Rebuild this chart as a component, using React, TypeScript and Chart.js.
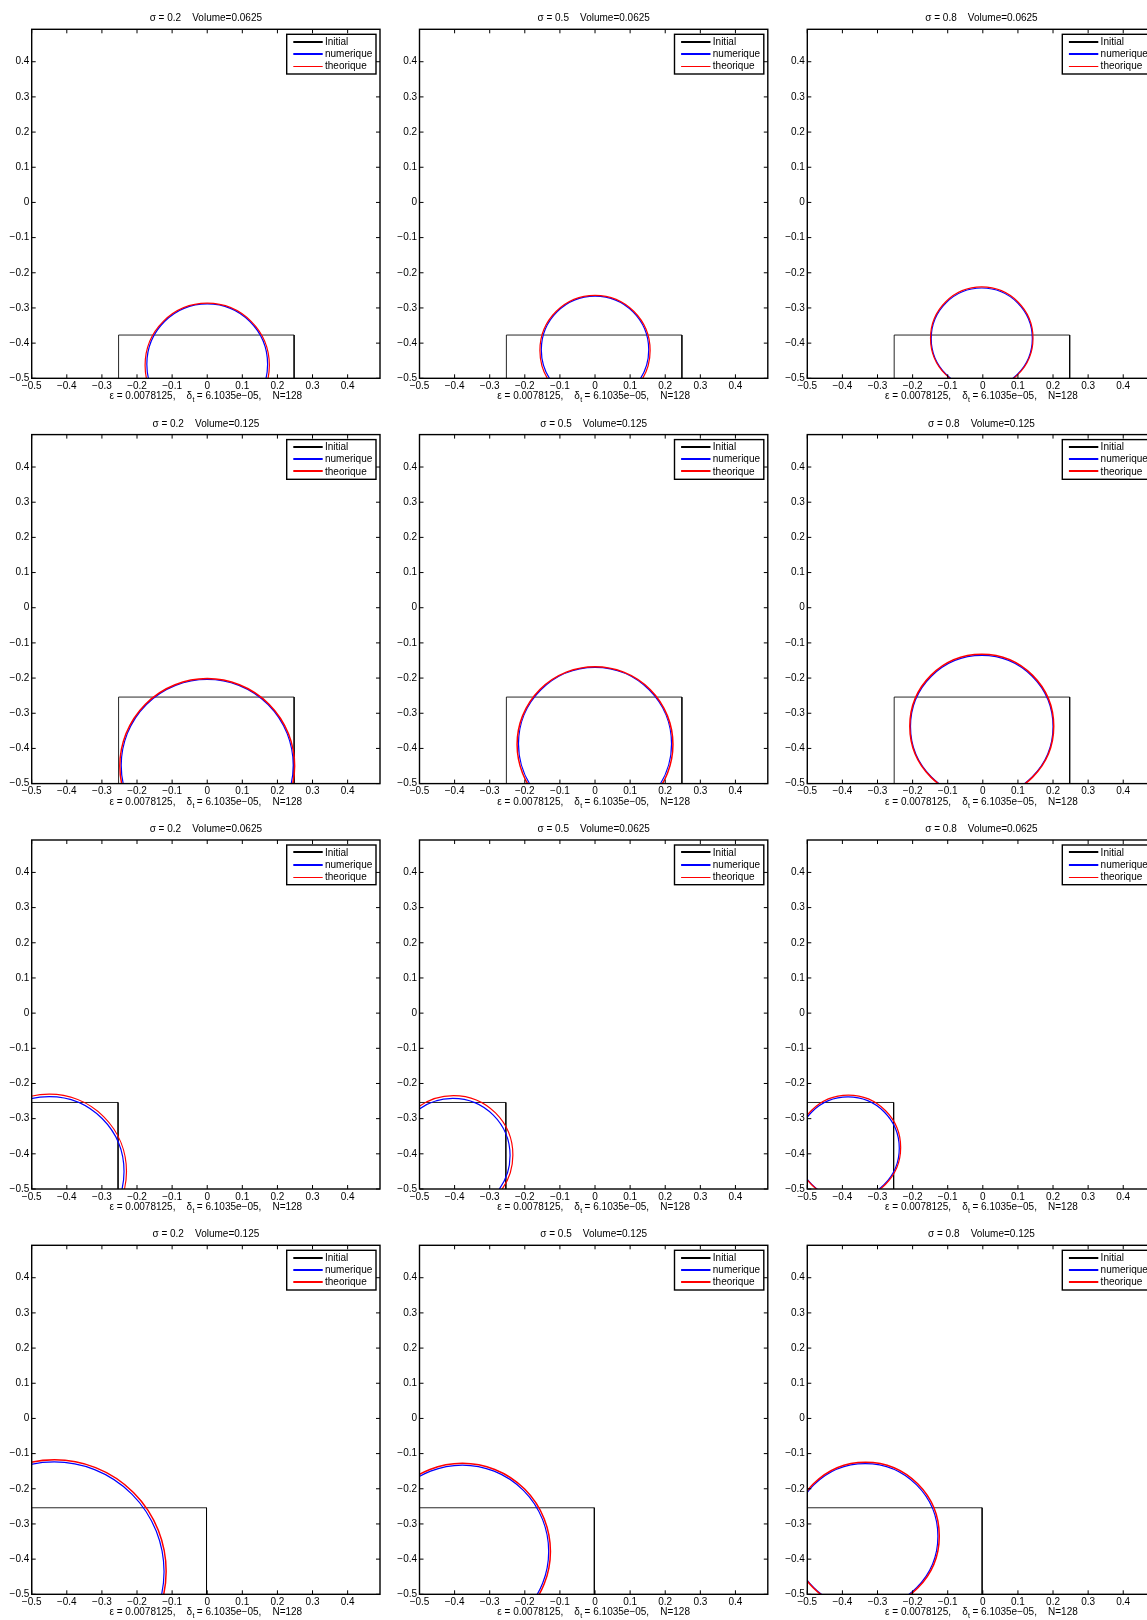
import React, { useEffect, useRef } from 'react';
import { Chart, registerables } from 'chart.js';

Chart.register(...registerables);

const FONT = '"Liberation Sans", Arial, Helvetica, sans-serif';

// ---------------- data ----------------
const sigmaValues = [0.2, 0.5, 0.8];
const volumeValues = [0.0625, 0.125, 0.0625, 0.125];
const epsilonValue = '0.0078125';
const deltaTValue = '6.1035e\u221205';
const gridN = 128;

const axisMin = -0.5;
const axisMax = 0.4922;
const tickValues = [-0.5, -0.4, -0.3, -0.2, -0.1, 0, 0.1, 0.2, 0.3, 0.4];
const tickLabels = ['\u22120.5', '\u22120.4', '\u22120.3', '\u22120.2', '\u22120.1', '0', '0.1', '0.2', '0.3', '0.4'];

const seriesLabels = ['Initial', 'numerique', 'theorique'];
const seriesColors = ['#000000', '#0000ff', '#ff0000'];

// initial shape (one per row): left x, right x, top y, sitting on the wall y = -0.5
const wallY = -0.5;
const initialLeft = [-0.2525, -0.2525, -0.5, -0.5];
const initialRight = [0.2475, 0.2475, -0.254, -0.002];
const initialTop = [-0.377, -0.254, -0.254, -0.254];

// numerical drop (row-major, 4 rows x 3 columns): centre and radius
const numCenterX = [
  0, 0, -0.003,
  0, 0, -0.003,
  -0.45, -0.405, -0.384,
  -0.436, -0.378, -0.335,
];
const numCenterY = [
  -0.46, -0.419, -0.387,
  -0.448, -0.387, -0.338,
  -0.45, -0.405, -0.384,
  -0.436, -0.378, -0.335,
];
const numRadius = [
  0.172, 0.153, 0.144,
  0.245, 0.218, 0.203,
  0.213, 0.163, 0.146,
  0.313, 0.246, 0.207,
];

// theoretical drop (row-major)
const theoCenterX = [
  0, 0, -0.003,
  0, 0, -0.003,
  -0.45, -0.403, -0.383,
  -0.435, -0.378, -0.334,
];
const theoCenterY = [
  -0.463, -0.421, -0.386,
  -0.45, -0.389, -0.337,
  -0.45, -0.403, -0.382,
  -0.435, -0.378, -0.334,
];
const theoRadius = [
  0.177, 0.157, 0.146,
  0.249, 0.222, 0.205,
  0.22, 0.169, 0.149,
  0.318, 0.251, 0.21,
];

// ---------------- layout ----------------
const PANEL_W = 388;
const PANEL_H = 405;
const PLOT_LEFT = [31.7, 419.5, 807.3];
const PLOT_TOP = [29.3, 434.6, 840.0, 1245.3];
const PLOT_W = 348.3;
const PLOT_H = 349;

function tickLabel(value: number): string {
  const i = tickValues.findIndex((t) => Math.abs(t - value) < 1e-9);
  return i >= 0 ? tickLabels[i] : '';
}

function pixelRadius(c: any): number {
  const chart = c.chart;
  const raw = c.raw;
  const s = chart && chart.scales ? chart.scales.x : null;
  if (!raw || !chart.chartArea || !s) return 0;
  return Math.abs(s.getPixelForValue(raw.r) - s.getPixelForValue(0));
}

function Panel({ row, col }: { row: number; col: number }) {
  const ref = useRef<HTMLCanvasElement | null>(null);
  const canvasLeft = Math.round(PLOT_LEFT[col] - 31.7);
  const canvasTop = Math.round(PLOT_TOP[row] - 29.3);

  useEffect(() => {
    const canvas = ref.current;
    if (!canvas) return;
    const idx = row * 3 + col;
    const relLeft = PLOT_LEFT[col] - canvasLeft;
    const relTop = PLOT_TOP[row] - canvasTop;
    const xAxisH = PANEL_H - relTop - PLOT_H;
    const rightPad = PANEL_W - relLeft - PLOT_W;
    const heavy = row % 2 === 1;
    const title = `\u03c3 = ${sigmaValues[col]}    Volume=${volumeValues[row]}`;
    const legendWidths = [2, 2, heavy ? 2 : 1];

    const rectPts = [
      { x: initialLeft[row], y: wallY },
      { x: initialLeft[row], y: initialTop[row] },
      { x: initialRight[row], y: initialTop[row] },
      { x: initialRight[row], y: wallY },
    ];

    const framePlugin = {
      id: 'matlabFrame',
      afterDraw(chart: any) {
        const { ctx, chartArea: a, scales } = chart;
        const sx = scales.x;
        const sy = scales.y;
        ctx.save();
        // axes box
        ctx.strokeStyle = '#000';
        ctx.lineWidth = 1.4;
        ctx.strokeRect(a.left, a.top, a.right - a.left, a.bottom - a.top);
        // inward ticks on four sides
        ctx.lineWidth = 1;
        ctx.beginPath();
        for (const v of tickValues) {
          const px = sx.getPixelForValue(v);
          ctx.moveTo(px, a.bottom);
          ctx.lineTo(px, a.bottom - 4);
          ctx.moveTo(px, a.top);
          ctx.lineTo(px, a.top + 4);
          const py = sy.getPixelForValue(v);
          ctx.moveTo(a.left, py);
          ctx.lineTo(a.left + 4, py);
          ctx.moveTo(a.right, py);
          ctx.lineTo(a.right - 4, py);
        }
        ctx.stroke();

        // legend
        const bx = a.right - 93.3;
        const by = a.top + 5;
        ctx.fillStyle = '#fff';
        ctx.fillRect(bx, by, 89.3, 39.7);
        ctx.lineWidth = 1.4;
        ctx.strokeStyle = '#000';
        ctx.strokeRect(bx, by, 89.3, 39.7);
        ctx.font = `10px ${FONT}`;
        ctx.textAlign = 'left';
        ctx.textBaseline = 'middle';
        for (let i = 0; i < seriesLabels.length; i++) {
          const ly = a.top + 12.4 + 12.2 * i;
          const w = legendWidths[i];
          const snapped = w % 2 === 1 ? Math.round(ly) + 0.5 : Math.round(ly);
          ctx.strokeStyle = seriesColors[i];
          ctx.lineWidth = w;
          ctx.beginPath();
          ctx.moveTo(a.right - 86.7, snapped);
          ctx.lineTo(a.right - 57.3, snapped);
          ctx.stroke();
          ctx.fillStyle = '#000';
          ctx.fillText(seriesLabels[i], a.right - 55, ly + 0.5);
        }

        // title
        const cx = (a.left + a.right) / 2;
        ctx.fillStyle = '#000';
        ctx.textAlign = 'center';
        ctx.textBaseline = 'alphabetic';
        ctx.font = `10px ${FONT}`;
        ctx.fillText(title, cx, a.top - 8);

        // x label with subscript
        const p1 = `\u03b5 = ${epsilonValue},    \u03b4`;
        const p2 = 't';
        const p3 = ` = ${deltaTValue},    N=${gridN}`;
        ctx.font = `10px ${FONT}`;
        const w1 = ctx.measureText(p1).width;
        const w3 = ctx.measureText(p3).width;
        ctx.font = `7px ${FONT}`;
        const w2 = ctx.measureText(p2).width;
        const x0 = cx - (w1 + w2 + w3) / 2;
        const baseY = a.bottom + 21;
        ctx.textAlign = 'left';
        ctx.font = `10px ${FONT}`;
        ctx.fillText(p1, x0, baseY);
        ctx.font = `7px ${FONT}`;
        ctx.fillText(p2, x0 + w1 + 0.3, baseY + 3);
        ctx.font = `10px ${FONT}`;
        ctx.fillText(p3, x0 + w1 + w2, baseY);
        ctx.restore();
      },
    };

    const tickFont = { family: FONT, size: 10 };

    const chart = new Chart(canvas, {
      type: 'scatter',
      data: {
        datasets: [
          {
            label: seriesLabels[0],
            data: rectPts,
            showLine: true,
            borderColor: 'rgba(0,0,0,0.85)',
            borderWidth: 1,
            pointRadius: 0,
            tension: 0,
            order: 2,
          } as any,
          {
            label: seriesLabels[1],
            data: [{ x: numCenterX[idx], y: numCenterY[idx], r: numRadius[idx] }],
            showLine: false,
            pointRadius: pixelRadius,
            pointBorderColor: seriesColors[1],
            pointBackgroundColor: 'rgba(0,0,0,0)',
            pointBorderWidth: 1.2,
            clip: 0,
            order: 1,
          } as any,
          {
            label: seriesLabels[2],
            data: [{ x: theoCenterX[idx], y: theoCenterY[idx], r: theoRadius[idx] }],
            showLine: false,
            pointRadius: pixelRadius,
            pointBorderColor: seriesColors[2],
            pointBackgroundColor: 'rgba(0,0,0,0)',
            pointBorderWidth: heavy ? 1.5 : 1.2,
            clip: 0,
            order: 0,
          } as any,
        ],
      },
      options: {
        animation: false,
        responsive: false,
        devicePixelRatio: 1,
        events: [],
        layout: { padding: { left: 0, top: relTop, right: rightPad, bottom: 0 } },
        plugins: {
          legend: { display: false },
          tooltip: { enabled: false },
          title: { display: false },
        },
        scales: {
          x: {
            type: 'linear',
            position: 'bottom',
            min: axisMin,
            max: axisMax,
            grid: { display: false, drawTicks: false },
            border: { display: false },
            ticks: {
              autoSkip: false,
              maxRotation: 0,
              minRotation: 0,
              padding: 2,
              color: '#000',
              font: tickFont,
              callback: (v: any) => tickLabel(Number(v)),
            },
            afterBuildTicks: (s: any) => {
              s.ticks = tickValues.map((v) => ({ value: v }));
            },
            afterFit: (s: any) => {
              s.height = xAxisH;
            },
          },
          y: {
            type: 'linear',
            position: 'left',
            min: axisMin,
            max: axisMax,
            grid: { display: false, drawTicks: false },
            border: { display: false },
            ticks: {
              autoSkip: false,
              padding: 2.4,
              color: '#000',
              font: tickFont,
              callback: (v: any) => tickLabel(Number(v)),
            },
            afterBuildTicks: (s: any) => {
              s.ticks = tickValues.map((v) => ({ value: v }));
            },
            afterFit: (s: any) => {
              s.width = relLeft;
            },
          },
        },
      } as any,
      plugins: [framePlugin],
    });
    return () => chart.destroy();
  }, [row, col, canvasLeft, canvasTop]);

  return (
    <canvas
      ref={ref}
      width={PANEL_W}
      height={PANEL_H}
      style={{ position: 'absolute', left: canvasLeft, top: canvasTop, width: PANEL_W, height: PANEL_H }}
    />
  );
}

export default function App() {
  const panels = [];
  for (let r = 0; r < 4; r++) {
    for (let c = 0; c < 3; c++) {
      panels.push(<Panel key={`${r}-${c}`} row={r} col={c} />);
    }
  }
  return (
    <div
      style={{
        position: 'absolute',
        left: 0,
        top: 0,
        width: 1147,
        height: 1620,
        overflow: 'hidden',
        background: '#ffffff',
      }}
    >
      {panels}
    </div>
  );
}
